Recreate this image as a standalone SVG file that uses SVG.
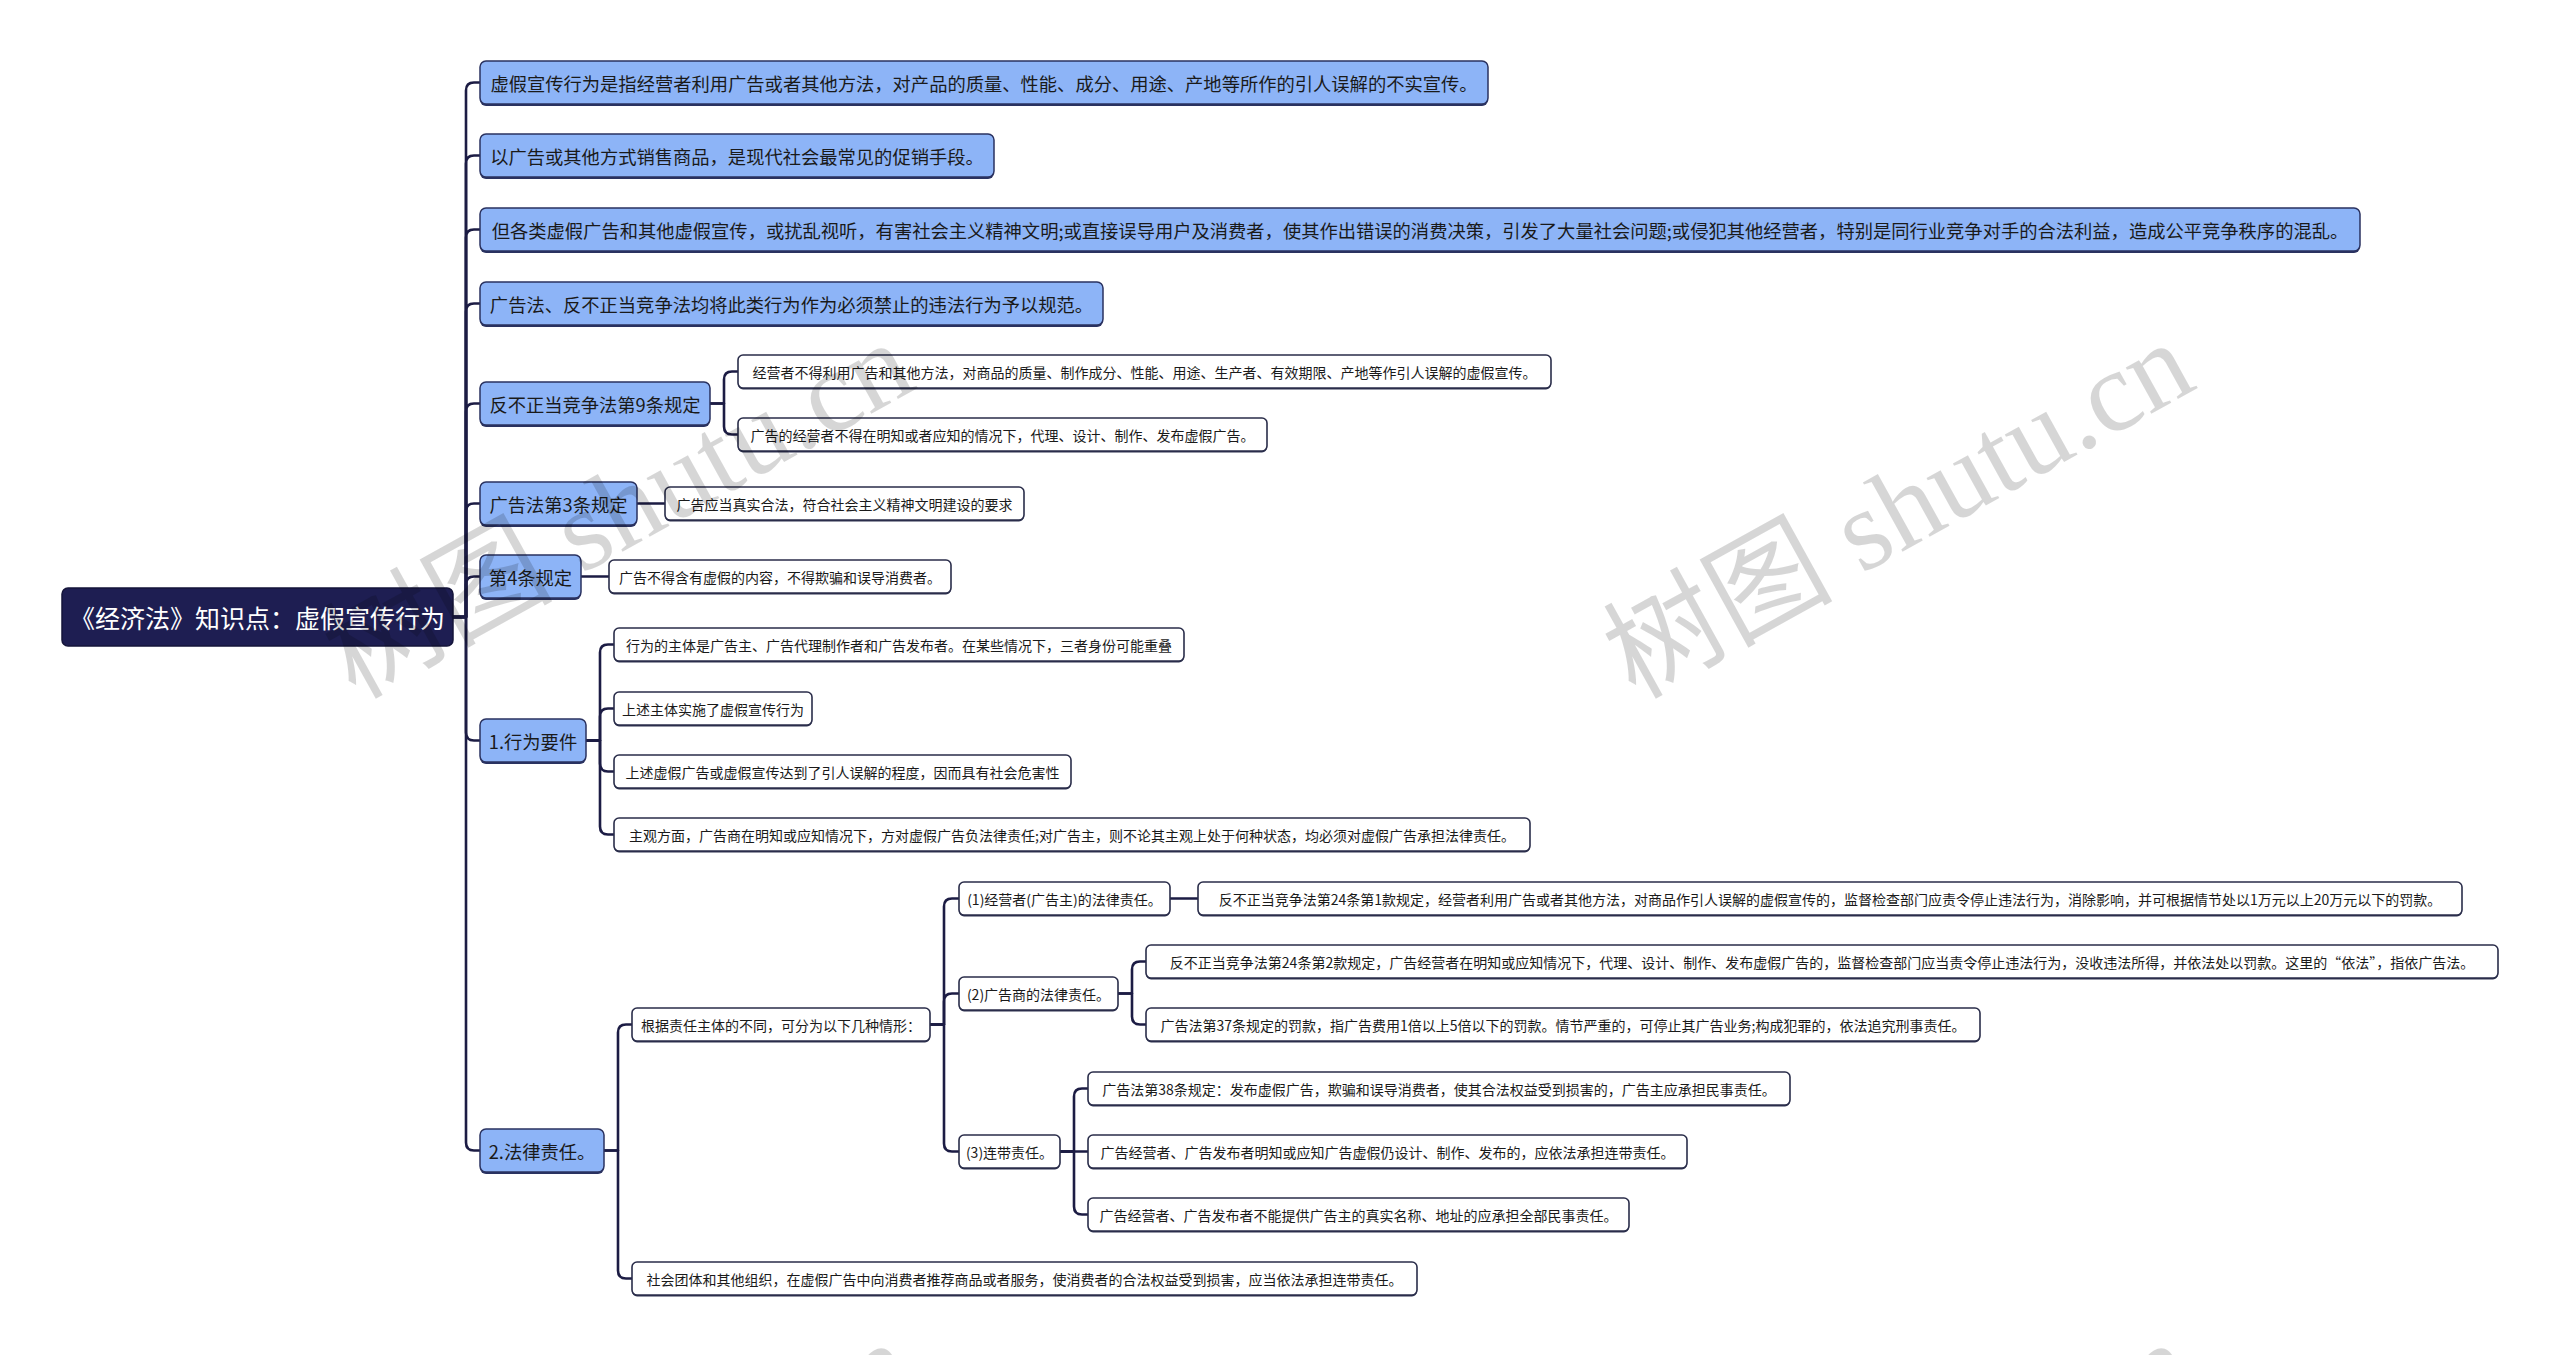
<svg xmlns="http://www.w3.org/2000/svg" width="2560" height="1355" viewBox="0 0 2560 1355">
<style>
.bg{fill:#ffffff}
.root rect.b{fill:#1e1e52;stroke:#15153a;stroke-width:1.5}
.root text{fill:#ffffff;font-size:25px}
.l1 rect.s{fill:#2a3260}
.l1 rect.b{fill:#8db4f7;stroke:#2a3260;stroke-width:1.5}
.l1 text{fill:#1a1a1a;font-size:18.3px}
.l2 rect.s{fill:#2e3350}
.l2 rect.b{fill:#ffffff;stroke:#2a2d4a;stroke-width:1.6}
.l2 text{fill:#1a1a1a;font-size:14px}
text{font-family:"Noto Sans CJK SC","Noto Sans",sans-serif;dominant-baseline:central;text-anchor:middle}
#connectors path{fill:none;stroke:#1c1c44;stroke-width:2.6;stroke-linecap:round;stroke-linejoin:round}
.wm{font-family:"Liberation Serif","Noto Sans CJK SC",serif;font-size:115px;fill:#000000;fill-opacity:0.16;dominant-baseline:alphabetic;text-anchor:start}
</style>
<rect class="bg" x="0" y="0" width="2560" height="1355"/>
<g id="connectors">
<path d="M453 617H466V90.5Q466 82.5 474 82.5H480"/>
<path d="M453 617H466V163.5Q466 155.5 474 155.5H480"/>
<path d="M453 617H466V237.5Q466 229.5 474 229.5H480"/>
<path d="M453 617H466V311.5Q466 303.5 474 303.5H480"/>
<path d="M453 617H466V411.5Q466 403.5 474 403.5H480"/>
<path d="M453 617H466V511.5Q466 503.5 474 503.5H480"/>
<path d="M453 617H466V584.5Q466 576.5 474 576.5H480"/>
<path d="M453 617H466V732.5Q466 740.5 474 740.5H480"/>
<path d="M453 617H466V1142.5Q466 1150.5 474 1150.5H480"/>
<path d="M710 403.5H724V379.5Q724 371.5 732 371.5H738"/>
<path d="M710 403.5H724V426.5Q724 434.5 732 434.5H738"/>
<path d="M637 503.5H665"/>
<path d="M581 576.5H609"/>
<path d="M586 740.5H600V652.5Q600 644.5 608 644.5H614"/>
<path d="M586 740.5H600V716.5Q600 708.5 608 708.5H614"/>
<path d="M586 740.5H600V763.5Q600 771.5 608 771.5H614"/>
<path d="M586 740.5H600V826.5Q600 834.5 608 834.5H614"/>
<path d="M604 1150.5H618V1032.5Q618 1024.5 626 1024.5H632"/>
<path d="M604 1150.5H618V1270.5Q618 1278.5 626 1278.5H632"/>
<path d="M930 1024.5H944V906.5Q944 898.5 952 898.5H959"/>
<path d="M930 1024.5H944V1001.5Q944 993.5 952 993.5H959"/>
<path d="M930 1024.5H944V1143.5Q944 1151.5 952 1151.5H959"/>
<path d="M1170 898.5H1198"/>
<path d="M1118 993.5H1132V969.5Q1132 961.5 1140 961.5H1146"/>
<path d="M1118 993.5H1132V1016.5Q1132 1024.5 1140 1024.5H1146"/>
<path d="M1060 1151.5H1074V1096.5Q1074 1088.5 1082 1088.5H1088"/>
<path d="M1060 1151.5H1088"/>
<path d="M1060 1151.5H1074V1206.5Q1074 1214.5 1082 1214.5H1088"/>
</g>

<g id="root" class="root"><rect class="b" x="62" y="588" width="391" height="58" rx="6"/><text x="257.5" y="617">《经济法》知识点：虚假宣传行为</text></g>

<g id="n1" class="l1"><rect class="s" x="480" y="63" width="1008" height="43" rx="6"/><rect class="b" x="480" y="61" width="1008" height="43" rx="6"/><text x="984" y="82.5">虚假宣传行为是指经营者利用广告或者其他方法，对产品的质量、性能、成分、用途、产地等所作的引人误解的不实宣传。</text></g>
<g id="n2" class="l1"><rect class="s" x="480" y="136" width="514" height="43" rx="6"/><rect class="b" x="480" y="134" width="514" height="43" rx="6"/><text x="737" y="155.5">以广告或其他方式销售商品，是现代社会最常见的促销手段。</text></g>
<g id="n3" class="l1"><rect class="s" x="480" y="210" width="1880" height="43" rx="6"/><rect class="b" x="480" y="208" width="1880" height="43" rx="6"/><text x="1420" y="229.5">但各类虚假广告和其他虚假宣传，或扰乱视听，有害社会主义精神文明;或直接误导用户及消费者，使其作出错误的消费决策，引发了大量社会问题;或侵犯其他经营者，特别是同行业竞争对手的合法利益，造成公平竞争秩序的混乱。</text></g>
<g id="n4" class="l1"><rect class="s" x="480" y="284" width="623" height="43" rx="6"/><rect class="b" x="480" y="282" width="623" height="43" rx="6"/><text x="791.5" y="303.5">广告法、反不正当竞争法均将此类行为作为必须禁止的违法行为予以规范。</text></g>
<g id="n5" class="l1"><rect class="s" x="480" y="384" width="230" height="43" rx="6"/><rect class="b" x="480" y="382" width="230" height="43" rx="6"/><text x="595" y="403.5">反不正当竞争法第9条规定</text></g>
<g id="n6" class="l1"><rect class="s" x="480" y="484" width="157" height="43" rx="6"/><rect class="b" x="480" y="482" width="157" height="43" rx="6"/><text x="558.5" y="503.5">广告法第3条规定</text></g>
<g id="n7" class="l1"><rect class="s" x="480" y="557" width="101" height="43" rx="6"/><rect class="b" x="480" y="555" width="101" height="43" rx="6"/><text x="530.5" y="576.5">第4条规定</text></g>
<g id="n8" class="l1"><rect class="s" x="480" y="721" width="106" height="43" rx="6"/><rect class="b" x="480" y="719" width="106" height="43" rx="6"/><text x="533" y="740.5">1.行为要件</text></g>
<g id="n9" class="l1"><rect class="s" x="480" y="1131" width="124" height="43" rx="6"/><rect class="b" x="480" y="1129" width="124" height="43" rx="6"/><text x="542" y="1150.5">2.法律责任。</text></g>

<g id="n5a" class="l2"><rect class="s" x="738" y="356.5" width="813" height="33" rx="5"/><rect class="b" x="738" y="355" width="813" height="33" rx="5"/><text x="1144.5" y="371.5">经营者不得利用广告和其他方法，对商品的质量、制作成分、性能、用途、生产者、有效期限、产地等作引人误解的虚假宣传。</text></g>
<g id="n5b" class="l2"><rect class="s" x="738" y="419.5" width="529" height="33" rx="5"/><rect class="b" x="738" y="418" width="529" height="33" rx="5"/><text x="1002.5" y="434.5">广告的经营者不得在明知或者应知的情况下，代理、设计、制作、发布虚假广告。</text></g>
<g id="n6a" class="l2"><rect class="s" x="665" y="488.5" width="359" height="33" rx="5"/><rect class="b" x="665" y="487" width="359" height="33" rx="5"/><text x="844.5" y="503.5">广告应当真实合法，符合社会主义精神文明建设的要求</text></g>
<g id="n7a" class="l2"><rect class="s" x="609" y="561.5" width="342" height="33" rx="5"/><rect class="b" x="609" y="560" width="342" height="33" rx="5"/><text x="780" y="576.5">广告不得含有虚假的内容，不得欺骗和误导消费者。</text></g>
<g id="n8a" class="l2"><rect class="s" x="614" y="629.5" width="570" height="33" rx="5"/><rect class="b" x="614" y="628" width="570" height="33" rx="5"/><text x="899" y="644.5">行为的主体是广告主、广告代理制作者和广告发布者。在某些情况下，三者身份可能重叠</text></g>
<g id="n8b" class="l2"><rect class="s" x="614" y="693.5" width="198" height="33" rx="5"/><rect class="b" x="614" y="692" width="198" height="33" rx="5"/><text x="713" y="708.5">上述主体实施了虚假宣传行为</text></g>
<g id="n8c" class="l2"><rect class="s" x="614" y="756.5" width="457" height="33" rx="5"/><rect class="b" x="614" y="755" width="457" height="33" rx="5"/><text x="842.5" y="771.5">上述虚假广告或虚假宣传达到了引人误解的程度，因而具有社会危害性</text></g>
<g id="n8d" class="l2"><rect class="s" x="614" y="819.5" width="916" height="33" rx="5"/><rect class="b" x="614" y="818" width="916" height="33" rx="5"/><text x="1072" y="834.5">主观方面，广告商在明知或应知情况下，方对虚假广告负法律责任;对广告主，则不论其主观上处于何种状态，均必须对虚假广告承担法律责任。</text></g>
<g id="n9a" class="l2"><rect class="s" x="632" y="1009.5" width="298" height="33" rx="5"/><rect class="b" x="632" y="1008" width="298" height="33" rx="5"/><text x="781" y="1024.5">根据责任主体的不同，可分为以下几种情形：</text></g>
<g id="n9a1" class="l2"><rect class="s" x="959" y="883.5" width="211" height="33" rx="5"/><rect class="b" x="959" y="882" width="211" height="33" rx="5"/><text x="1064.5" y="898.5">(1)经营者(广告主)的法律责任。</text></g>
<g id="n9a1c" class="l2"><rect class="s" x="1198" y="883.5" width="1264" height="33" rx="5"/><rect class="b" x="1198" y="882" width="1264" height="33" rx="5"/><text x="1830" y="898.5">反不正当竞争法第24条第1款规定，经营者利用广告或者其他方法，对商品作引人误解的虚假宣传的，监督检查部门应责令停止违法行为，消除影响，并可根据情节处以1万元以上20万元以下的罚款。</text></g>
<g id="n9a2" class="l2"><rect class="s" x="959" y="978.5" width="159" height="33" rx="5"/><rect class="b" x="959" y="977" width="159" height="33" rx="5"/><text x="1038.5" y="993.5">(2)广告商的法律责任。</text></g>
<g id="n9a2a" class="l2"><rect class="s" x="1146" y="946.5" width="1352" height="33" rx="5"/><rect class="b" x="1146" y="945" width="1352" height="33" rx="5"/><text x="1822" y="961.5">反不正当竞争法第24条第2款规定，广告经营者在明知或应知情况下，代理、设计、制作、发布虚假广告的，监督检查部门应当责令停止违法行为，没收违法所得，并依法处以罚款。这里的“依法”，指依广告法。</text></g>
<g id="n9a2b" class="l2"><rect class="s" x="1146" y="1009.5" width="834" height="33" rx="5"/><rect class="b" x="1146" y="1008" width="834" height="33" rx="5"/><text x="1563" y="1024.5">广告法第37条规定的罚款，指广告费用1倍以上5倍以下的罚款。情节严重的，可停止其广告业务;构成犯罪的，依法追究刑事责任。</text></g>
<g id="n9a3" class="l2"><rect class="s" x="959" y="1136.5" width="101" height="33" rx="5"/><rect class="b" x="959" y="1135" width="101" height="33" rx="5"/><text x="1009.5" y="1151.5">(3)连带责任。</text></g>
<g id="n9a3a" class="l2"><rect class="s" x="1088" y="1073.5" width="702" height="33" rx="5"/><rect class="b" x="1088" y="1072" width="702" height="33" rx="5"/><text x="1439" y="1088.5">广告法第38条规定：发布虚假广告，欺骗和误导消费者，使其合法权益受到损害的，广告主应承担民事责任。</text></g>
<g id="n9a3b" class="l2"><rect class="s" x="1088" y="1136.5" width="599" height="33" rx="5"/><rect class="b" x="1088" y="1135" width="599" height="33" rx="5"/><text x="1387.5" y="1151.5">广告经营者、广告发布者明知或应知广告虚假仍设计、制作、发布的，应依法承担连带责任。</text></g>
<g id="n9a3c" class="l2"><rect class="s" x="1088" y="1199.5" width="541" height="33" rx="5"/><rect class="b" x="1088" y="1198" width="541" height="33" rx="5"/><text x="1358.5" y="1214.5">广告经营者、广告发布者不能提供广告主的真实名称、地址的应承担全部民事责任。</text></g>
<g id="n9b" class="l2"><rect class="s" x="632" y="1263.5" width="785" height="33" rx="5"/><rect class="b" x="632" y="1262" width="785" height="33" rx="5"/><text x="1024.5" y="1278.5">社会团体和其他组织，在虚假广告中向消费者推荐商品或者服务，使消费者的合法权益受到损害，应当依法承担连带责任。</text></g>

<g id="watermarks">
<text class="wm" transform="translate(355,700) rotate(-29)">树图 shutu.cn</text>
<text class="wm" transform="translate(1635,700) rotate(-29)">树图 shutu.cn</text>
<text class="wm" transform="translate(355,1700) rotate(-29)">树图 shutu.cn</text>
<text class="wm" transform="translate(1635,1700) rotate(-29)">树图 shutu.cn</text>
</g>
</svg>
